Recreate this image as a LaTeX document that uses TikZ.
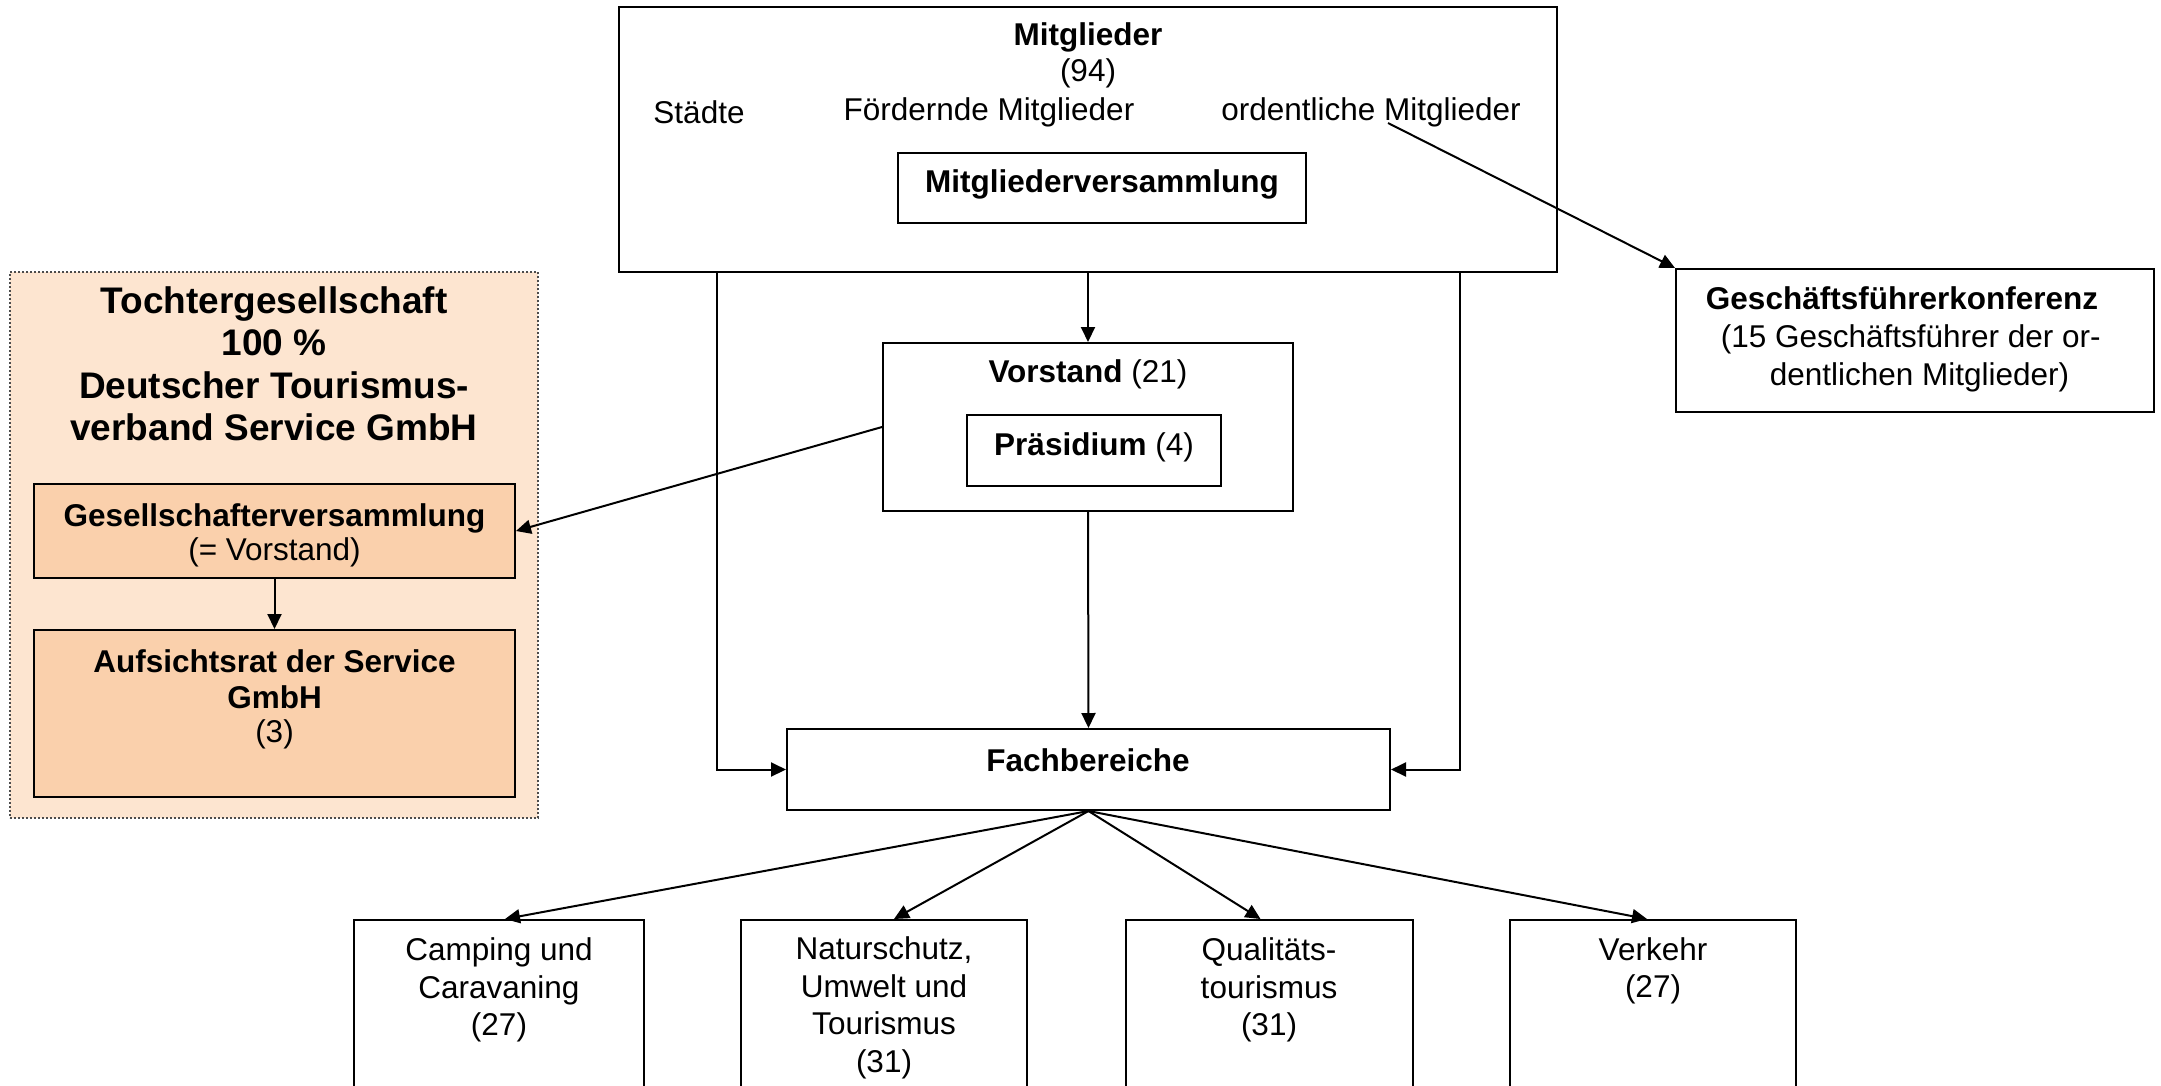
\documentclass[tikz,border=0pt]{standalone}
\usepackage{fontspec}
\setmainfont{Liberation Sans}
\usetikzlibrary{arrows.meta,fit}
\definecolor{panelfill}{HTML}{FDE5D0}
\definecolor{boxfill}{HTML}{FAD0AC}
\begin{document}
\begin{tikzpicture}[x=1pt,y=-1pt,
  box/.style={draw=black,line width=2pt,inner sep=0pt},
  txt/.style={font=\fontsize{31.5}{36}\selectfont,align=center,inner sep=0pt},
  txtl/.style={font=\fontsize{31.5}{37.5}\selectfont,align=center,inner sep=0pt},
  bigtxt/.style={font=\fontsize{37}{42.5}\selectfont\bfseries,align=center,inner sep=0pt},
  arr/.style={line width=2pt,-{Triangle[length=15pt,width=14pt]}},
]
\useasboundingbox[fill=white] (0,0) rectangle (2161,1085);
\clip (0,0) rectangle (2161,1085);

% left panel
\node[draw=black!70,dotted,line width=2pt,fill=panelfill,inner sep=0pt,fit={(10,272)(538,818)}] (panel) {};
\node[bigtxt] (ptitle) at (274,364) {Tochtergesellschaft\\100 \%\\Deutscher Tourismus-\\verband Service GmbH};
\node[box,fill=boxfill,fit={(34,484)(515,578)}] (gv) {};
\node[txt] (gvt) at (274.5,535) {\textbf{Gesellschafterversammlung}\\[-2pt](= Vorstand)};
\node[box,fill=boxfill,fit={(34,630)(515,797)}] (auf) {};
\node[txt] (auft) at (274.5,699) {\textbf{Aufsichtsrat der Service}\\\textbf{GmbH}\\[-2pt](3)};

% top box
\node[box,fit={(619,7)(1557,272)}] (mitgl) {};
\node[txt,font=\fontsize{31.5}{36}\selectfont\bfseries] (mt) at (1088,37) {Mitglieder};
\node[txt] (m94) at (1088,73) {(94)};
\node[txt] (staedte) at (699,112) {Städte};
\node[txt] (foerd) at (989,112) {Fördernde Mitglieder};
\node[txt] (ord) at (1371,112) {ordentliche Mitglieder};
\coordinate (ordM) at (1388,123);
\node[box,fit={(898,153)(1306,223)}] (mv) {};
\node[txt,font=\fontsize{31.5}{36}\selectfont\bfseries] (mvt) at (1102,184) {Mitgliederversammlung};

% Vorstand
\node[box,fit={(883,343)(1293,511)}] (vorst) {};
\node[txt] (vorstt) at (1088,374) {\textbf{Vorstand} (21)};
\node[box,fit={(967,415)(1221,486)}] (praes) {};
\node[txt] (praest) at (1094,447) {\textbf{Präsidium} (4)};

% Geschaeftsfuehrerkonferenz
\node[box,fit={(1676,269)(2154,412)}] (gfk) {};
\node[txtl] (gfkt) at (1902,339) {\textbf{Geschäftsführerkonferenz}\\[1pt]\ \ (15 Geschäftsführer der or-\\\ \ \ \ dentlichen Mitglieder)};

% Fachbereiche
\node[box,fit={(787,729)(1390,810)}] (fach) {};
\node[txt,font=\fontsize{31.5}{36}\selectfont\bfseries] (facht) at (1088,760) {Fachbereiche};

% bottom boxes
\node[box,fit={(354,920)(644,1110)}] (camp) {};
\node[txtl] (campt) at (499,990) {Camping und\\Caravaning\\(27)};
\node[box,fit={(741,920)(1027,1110)}] (natur) {};
\node[txtl] (naturt) at (884,1008) {Naturschutz,\\Umwelt und\\Tourismus\\(31)};
\node[box,fit={(1126,920)(1413,1110)}] (qual) {};
\node[txtl] (qualt) at (1269,990) {Qualitäts-\\tourismus\\(31)};
\node[box,fit={(1510,920)(1796,1110)}] (verk) {};
\node[txtl] (verkt) at (1653,971) {Verkehr\\(27)};

% connectors
\coordinate (ml) at (717,272);
\coordinate (mr) at (1460,272);
\draw[arr] (mitgl.south) -- (vorst.north);
\draw[arr] (vorst.south) -- (fach.north);
\draw[arr] (ml) |- (fach.west);
\draw[arr] (mr) |- (fach.east);
\draw[arr] (ordM) -- (gfk.north west);
\draw[arr] (vorst.west) -- (gv.east);
\draw[arr] (gv.south) -- (auf.north);
\draw[arr] (fach.south) -- ([xshift=6pt]camp.north);
\draw[arr] (fach.south) -- ([xshift=10pt]natur.north);
\draw[arr] (fach.south) -- ([xshift=-9pt]qual.north);
\draw[arr] (fach.south) -- ([xshift=-6pt]verk.north);
\end{tikzpicture}
\end{document}
